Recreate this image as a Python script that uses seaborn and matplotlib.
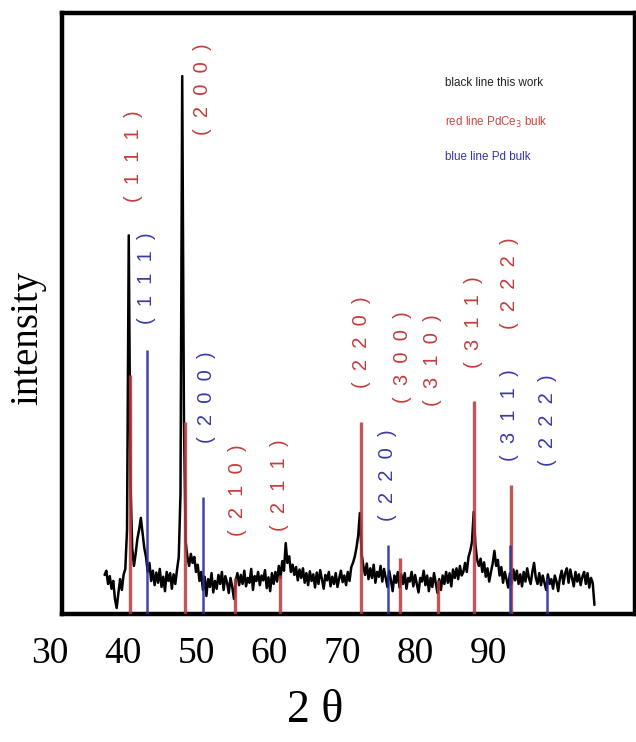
import numpy as np
import pandas as pd
import matplotlib
matplotlib.use("Agg")
import matplotlib.pyplot as plt
import seaborn as sns

# ---------------- data ----------------
scan_start = 35.2
scan_step = 0.2
intensity_this_work = [
    6.5, 7.2, 5.0, 6.3,
    4.2, 5.5, 2.5, 1.0, 3.5,
    5.8, 4.0, 6.5, 7.5, 14.0,
    63.0, 22.0, 11.0, 8.0, 10.0,
    12.5, 14.0, 16.0, 13.5, 11.0,
    9.5, 7.0, 8.5, 5.5, 7.2,
    4.8, 6.9, 5.2, 7.5, 4.5,
    6.2, 3.8, 7.0, 5.5, 6.8,
    4.2, 6.6, 5.0, 7.4, 9.5,
    20.0, 89.5, 32.0, 12.0, 9.5,
    8.0, 10.0, 8.5, 9.5, 7.0,
    8.2, 5.5, 7.0, 4.0, 6.2,
    3.0, 5.8, 4.5, 6.8, 3.6,
    5.5, 4.2, 6.5, 5.0, 7.0,
    4.0, 6.3, 5.2, 3.5, 6.0,
    4.5, 2.5, 5.5, 6.8, 4.8,
    6.5, 5.0, 7.2, 4.6, 6.0,
    5.2, 7.5, 4.0, 6.3, 5.5,
    7.0, 4.8, 6.4, 5.6, 7.3,
    4.3, 6.1, 3.8, 6.8, 5.0,
    7.0, 5.4, 8.0, 6.0, 8.8,
    7.2, 11.8, 8.5, 9.6, 7.0,
    8.2, 6.5, 7.8, 5.6, 7.4,
    6.0, 7.6, 5.2, 6.8, 4.8,
    7.1, 5.5, 6.6, 4.4, 6.9,
    5.0, 7.3, 5.8, 4.2, 6.5,
    5.6, 7.0, 4.6, 6.2, 5.0,
    6.8, 4.5, 5.9, 7.2, 5.3,
    6.4, 4.8, 7.0, 5.5, 7.8,
    8.5, 9.5, 11.0, 13.0, 16.8,
    10.0, 8.0, 6.5, 8.4, 5.8,
    7.6, 6.0, 8.2, 5.2, 7.0,
    6.2, 8.0, 5.4, 7.5, 6.0,
    4.5, 7.2, 5.6, 3.8, 6.4,
    5.2, 7.0, 4.4, 6.6, 5.0,
    6.8, 4.2, 6.0, 5.4, 7.0,
    4.6, 6.5, 5.0, 3.6, 6.0,
    5.4, 7.2, 4.8, 6.4, 3.8,
    6.0, 4.5, 6.8, 5.2, 3.5,
    5.8, 4.0, 6.4, 5.0, 7.0,
    5.2, 6.8, 4.6, 7.4, 6.0,
    7.6, 5.8, 8.0, 6.4, 7.0,
    8.5, 7.0, 9.5, 10.5, 12.0,
    17.0, 11.5, 9.0, 8.0, 9.2,
    7.0, 8.6, 6.2, 7.6, 5.4,
    7.0, 8.4, 10.5, 8.0, 9.0,
    6.4, 7.8, 5.2, 7.0, 5.8,
    4.4, 6.8, 5.0, 7.4, 5.6,
    7.2, 5.0, 6.6, 4.6, 7.0,
    5.4, 7.6, 6.0, 5.0, 7.0,
    8.5, 6.0, 5.0, 6.8, 4.8,
    6.4, 5.2, 4.0, 6.6, 5.0,
    5.8, 4.2, 6.4, 5.4, 3.8,
    6.0, 7.2, 5.0, 6.8, 7.6,
    5.2, 7.4, 6.0, 4.6, 7.0,
    5.4, 6.6, 4.8, 6.2, 7.0,
    5.0, 6.8, 4.4, 6.0, 5.2,
    1.5,
]
two_theta = np.round(scan_start + scan_step * np.arange(len(intensity_this_work)), 1)

pdce3_pos = [38.1, 44.5, 50.3, 55.5, 64.9, 69.5, 73.9, 78.0, 82.3]
pdce3_int = [39.7, 32.0, 6.0, 6.5, 32.0, 9.3, 5.6, 35.5, 21.4]
pdce3_hkl = ["(  1  1  1  )", "(  2  0  0  )", "(  2  1  0  )", "(  2  1  1  )", "(  2  2  0  )",
             "(  3  0  0  )", "(  3  1  0  )", "(  3  1  1  )", "(  2  2  2  )"]
pdce3_lab_x = [38.5, 46.6, 50.6, 55.5, 65.0, 69.7, 73.2, 78.0, 82.2]
pdce3_lab_y = [76.2, 87.4, 20.6, 21.4, 45.2, 42.7, 42.2, 48.5, 55.0]

pd_pos = [40.1, 46.6, 68.1, 82.2, 86.5]
pd_int = [43.9, 19.4, 11.5, 11.5, 6.0]
pd_hkl = ["(  1  1  1  )", "(  2  0  0  )", "(  2  2  0  )", "(  3  1  1  )", "(  2  2  2  )"]
pd_lab_x = [40.1, 47.0, 68.0, 82.2, 86.6]
pd_lab_y = [55.8, 36.0, 23.1, 33.1, 32.2]

tick_values = [30, 40, 50, 60, 70, 80, 90]
legend_lines = ["black line this work", "red line PdCe$_3$ bulk", "blue line Pd bulk"]

# ---------------- style ----------------
sns.set_style("white")
plt.rcParams['font.family'] = ['Liberation Sans', 'DejaVu Sans']
plt.rcParams['text.color'] = 'black'
plt.rcParams['axes.labelcolor'] = 'black'
plt.rcParams['xtick.color'] = 'black'

RED = "#b8383a"
RED_TXT = "#c43c3c"
BLUE = "#2e2ea6"
BLUE_TXT = "#3a3aa8"

W, H = 636, 742
fig = plt.figure(figsize=(W / 100, H / 100), dpi=100)
fig.patch.set_facecolor("white")

ax_l, ax_r, ax_t, ax_b = 62, 635, 13, 614
ax = fig.add_axes([ax_l / W, 1 - ax_b / H, (ax_r - ax_l) / W, (ax_b - ax_t) / H])

df = pd.DataFrame({"two_theta": two_theta, "intensity": intensity_this_work})
sns.lineplot(data=df, x="two_theta", y="intensity", ax=ax, color="black",
             linewidth=1.8, zorder=2)

ax.vlines(pdce3_pos, 0, pdce3_int, colors=RED, linewidth=2.4, alpha=0.85, zorder=3)
ax.vlines(pd_pos, 0, pd_int, colors=BLUE, linewidth=1.8, alpha=0.9, zorder=4)

for x, y, t in zip(pdce3_lab_x, pdce3_lab_y, pdce3_hkl):
    ax.text(x, y, t, rotation=90, ha="center", va="center", color=RED_TXT,
            fontsize=14.5, fontfamily="Liberation Sans")
for x, y, t in zip(pd_lab_x, pd_lab_y, pd_hkl):
    ax.text(x, y, t, rotation=90, ha="center", va="center", color=BLUE_TXT,
            fontsize=14.5, fontfamily="Liberation Sans")

leg_colors = ["#222222", "#d04444", "#3535a8"]
leg_y = [83, 122, 157]
for t, c, py in zip(legend_lines, leg_colors, leg_y):
    ax.text((445 - ax_l) / (ax_r - ax_l), (ax_b - py) / (ax_b - ax_t), t,
            transform=ax.transAxes, ha="left", va="center", color=c,
            fontsize=8.4, fontfamily="Liberation Sans")

ax.set_xlim(30.26, 30.26 + (ax_r - ax_l) / 8.624)
ax.set_ylim(0, 100)
ax.set_xticks([])
ax.set_yticks([])
ax.set_xlabel("2 θ", fontfamily="Liberation Serif", fontsize=33, va="top", color="black")
ax.xaxis.set_label_coords((315 - ax_l) / (ax_r - ax_l), -(689 - ax_b) / (ax_b - ax_t))
ax.set_ylabel("intensity", fontfamily="Liberation Serif", fontsize=28, va="center", color="black")
ax.yaxis.set_label_coords(-(ax_l - 28) / (ax_r - ax_l), (ax_b - 338) / (ax_b - ax_t))
for s in ax.spines.values():
    s.set_color("black")
    s.set_linewidth(3.2)
    s.set_visible(True)

# tick labels, placed as in the reference (30 at px 50, 90 at px 488)
tx = fig.add_axes([50 / W, 1 - ax_b / H, (488 - 50) / W, 0.001])
tx.set_xlim(30, 90)
tx.set_xticks(tick_values)
tx.set_xticklabels([str(v) for v in tick_values], fontfamily="Liberation Serif",
                   fontsize=27, color="black")
tx.tick_params(axis="x", length=0, pad=16)
tx.set_yticks([])
for s in tx.spines.values():
    s.set_visible(False)
tx.patch.set_alpha(0)

fig.savefig("out.png", dpi=100, facecolor="white")
